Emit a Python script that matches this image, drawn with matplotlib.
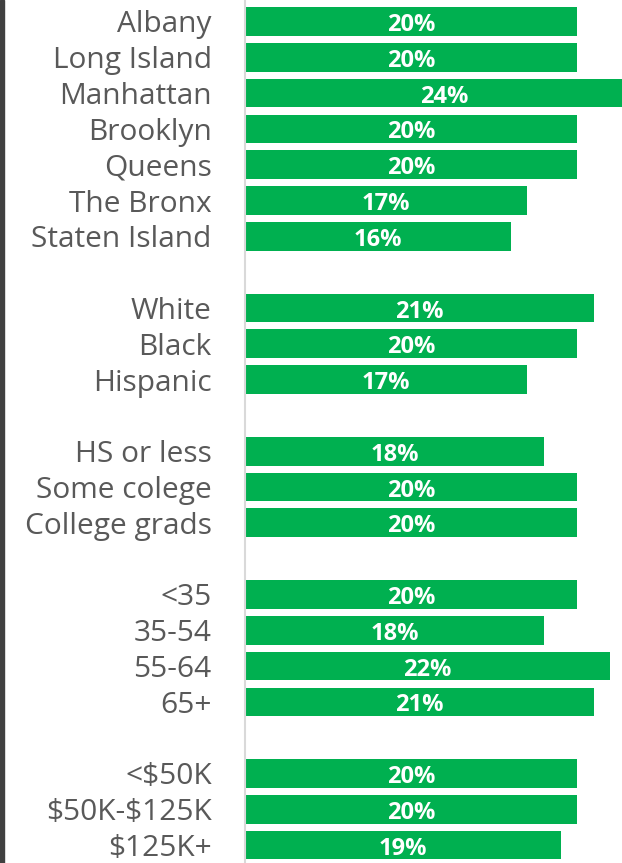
import matplotlib
matplotlib.use("Agg")
import matplotlib.pyplot as plt
from matplotlib.patches import Rectangle

# groups of the chart, an empty string marks the gap between groups
categories = ["Albany", "Long Island", "Manhattan", "Brooklyn", "Queens", "The Bronx", "Staten Island",
              "",
              "White", "Black", "Hispanic",
              "",
              "HS or less", "Some colege", "College grads",
              "",
              "<35", "35-54", "55-64", "65+",
              "",
              r"<\$50K", r"\$50K-\$125K", r"\$125K+"]
values = [20, 20, 24, 20, 20, 17, 16,
          None,
          21, 20, 17,
          None,
          18, 20, 20,
          None,
          20, 18, 22, 21,
          None,
          20, 20, 19]

green = "#00B050"
label_grey = "#595959"

plt.rcParams['font.family'] = ['Open Sans', 'DejaVu Sans']

fig = plt.figure(figsize=(6.22, 8.63), dpi=100)
ax = fig.add_axes([245 / 622, 0, 1 - 245 / 622, 1])

pos = [i for i, v in enumerate(values) if v is not None]
vals = [v for v in values if v is not None]
bars = ax.barh(pos, vals, height=0.8, color=green)

# white percentage labels centered in each bar
for rect, v in zip(bars, vals):
    ax.text(rect.get_x() + rect.get_width() / 2, rect.get_y() + rect.get_height() / 2 + 0.1,
            f"{v}%", color="white", fontsize=17, fontweight="bold",
            ha="center", va="center")

ax.set_yticks(range(len(categories)))
ax.set_yticklabels(categories, fontsize=21.5, color=label_grey)
ax.tick_params(axis="y", length=0, pad=24)
ax.set_xticks([])
ax.set_xlim(0, 22.7)
ax.set_ylim(23.5, -0.6)

for s in ["top", "right", "bottom"]:
    ax.spines[s].set_visible(False)
ax.spines["left"].set_color("#d9d9d9")
ax.spines["left"].set_linewidth(1.5)

# dark border line at the left edge of the picture
fig.add_artist(Rectangle((0, 0), 4 / 622, 1, transform=fig.transFigure, color="#404040"))

fig.savefig("out.png", dpi=100)
